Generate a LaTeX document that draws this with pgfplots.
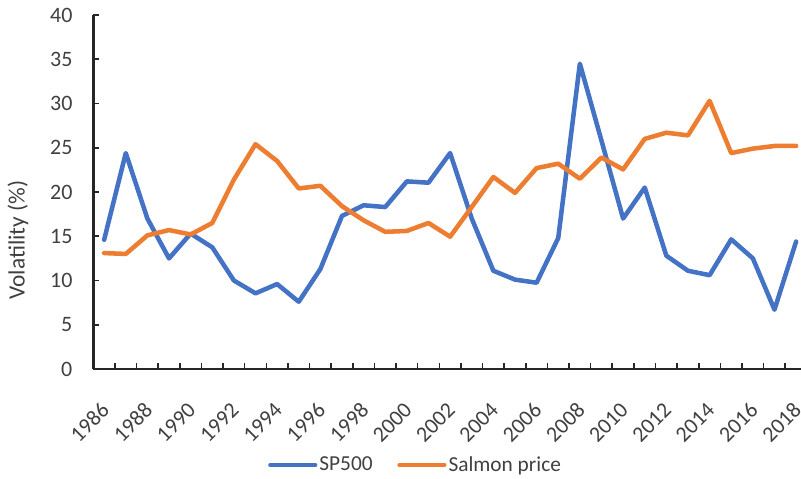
\documentclass[border=0pt]{standalone}
\usepackage{fontspec}
\setmainfont{Carlito}
\usepackage{pgfplots}
\pgfplotsset{compat=1.18}
\definecolor{spblue}{HTML}{4472C4}
\definecolor{salmon}{HTML}{ED7D31}
\definecolor{axgray}{HTML}{262626}
\definecolor{txtgray}{HTML}{404040}
\begin{document}
\begin{tikzpicture}
\path[use as bounding box] (0,0) rectangle (600.75pt,359.25pt);
\begin{axis}[
  at={(70pt,82.5pt)}, anchor=south west,
  scale only axis, width=530.8pt, height=265.5pt,
  xmin=1985.5, xmax=2018.23, ymin=0, ymax=40,
  axis x line*=bottom, axis y line*=left,
  axis line style={axgray, line width=2pt},
  xtick={1986,1988,1990,1992,1994,1996,1998,2000,2002,2004,2006,2008,2010,2012,2014,2016,2018},
  xticklabels={1986,1988,1990,1992,1994,1996,1998,2000,2002,2004,2006,2008,2010,2012,2014,2016,2018},
  minor xtick={1986.5,1987.5,...,2017.5},
  ytick={0,5,10,15,20,25,30,35,40},
  yticklabels={0,5,10,15,20,25,30,35,40},
  tick align=inside,
  major tick length=4.5pt, minor tick length=4.5pt,
  every major x tick/.append style={draw=none},
  tick style={axgray, line width=1.2pt},
  ticklabel style={font=\fontsize{16.5}{19}\selectfont, text=txtgray},
  yticklabel style={anchor=east, inner sep=0pt, xshift=-15.5pt},
  xticklabel style={xshift=1pt, yshift=-28pt, rotate=45, anchor=east, inner sep=0pt},
  ylabel={Volatility (\%)},
  ylabel style={at={(axis description cs:-0.1064,0.364)}, anchor=center, font=\fontsize{17.5}{20}\selectfont, text=txtgray},
  legend columns=2,
  legend style={draw=none, fill=none, at={(axis description cs:0.4553,-0.2712)}, anchor=center,
    font=\fontsize{16}{19}\selectfont, text=txtgray,
    /tikz/every even column/.append style={column sep=17pt},
    nodes={inner sep=1.5pt}},
  legend image code/.code={\draw[#1, line cap=round] (0pt,0pt) -- (33.5pt,0pt);},
  clip=false,
]
\addplot[spblue, line width=3.4pt, line join=round, line cap=round] coordinates {
(1986,14.6) (1987,24.4) (1988,17.0) (1989,12.5) (1990,15.3) (1991,13.75)
(1992,10.0) (1993,8.55) (1994,9.6) (1995,7.6) (1996,11.3) (1997,17.3)
(1998,18.5) (1999,18.3) (2000,21.2) (2001,21.05) (2002,24.4) (2003,17.0)
(2004,11.1) (2005,10.1) (2006,9.75) (2007,14.8) (2008,34.5) (2009,25.8)
(2010,17.0) (2011,20.5) (2012,12.8) (2013,11.1) (2014,10.6) (2015,14.65)
(2016,12.5) (2017,6.7) (2018,14.4)
};
\addlegendentry{SP500}
\addplot[salmon, line width=3.4pt, line join=round, line cap=round] coordinates {
(1986,13.1) (1987,13.0) (1988,15.1) (1989,15.7) (1990,15.2) (1991,16.5)
(1992,21.4) (1993,25.4) (1994,23.5) (1995,20.4) (1996,20.7) (1997,18.4)
(1998,16.8) (1999,15.5) (2000,15.6) (2001,16.5) (2002,14.95) (2003,18.3)
(2004,21.7) (2005,19.9) (2006,22.7) (2007,23.2) (2008,21.5) (2009,23.9)
(2010,22.55) (2011,26.0) (2012,26.7) (2013,26.4) (2014,30.3) (2015,24.4)
(2016,24.9) (2017,25.2) (2018,25.2)
};
\addlegendentry{Salmon price}
\end{axis}
\end{tikzpicture}
\end{document}
